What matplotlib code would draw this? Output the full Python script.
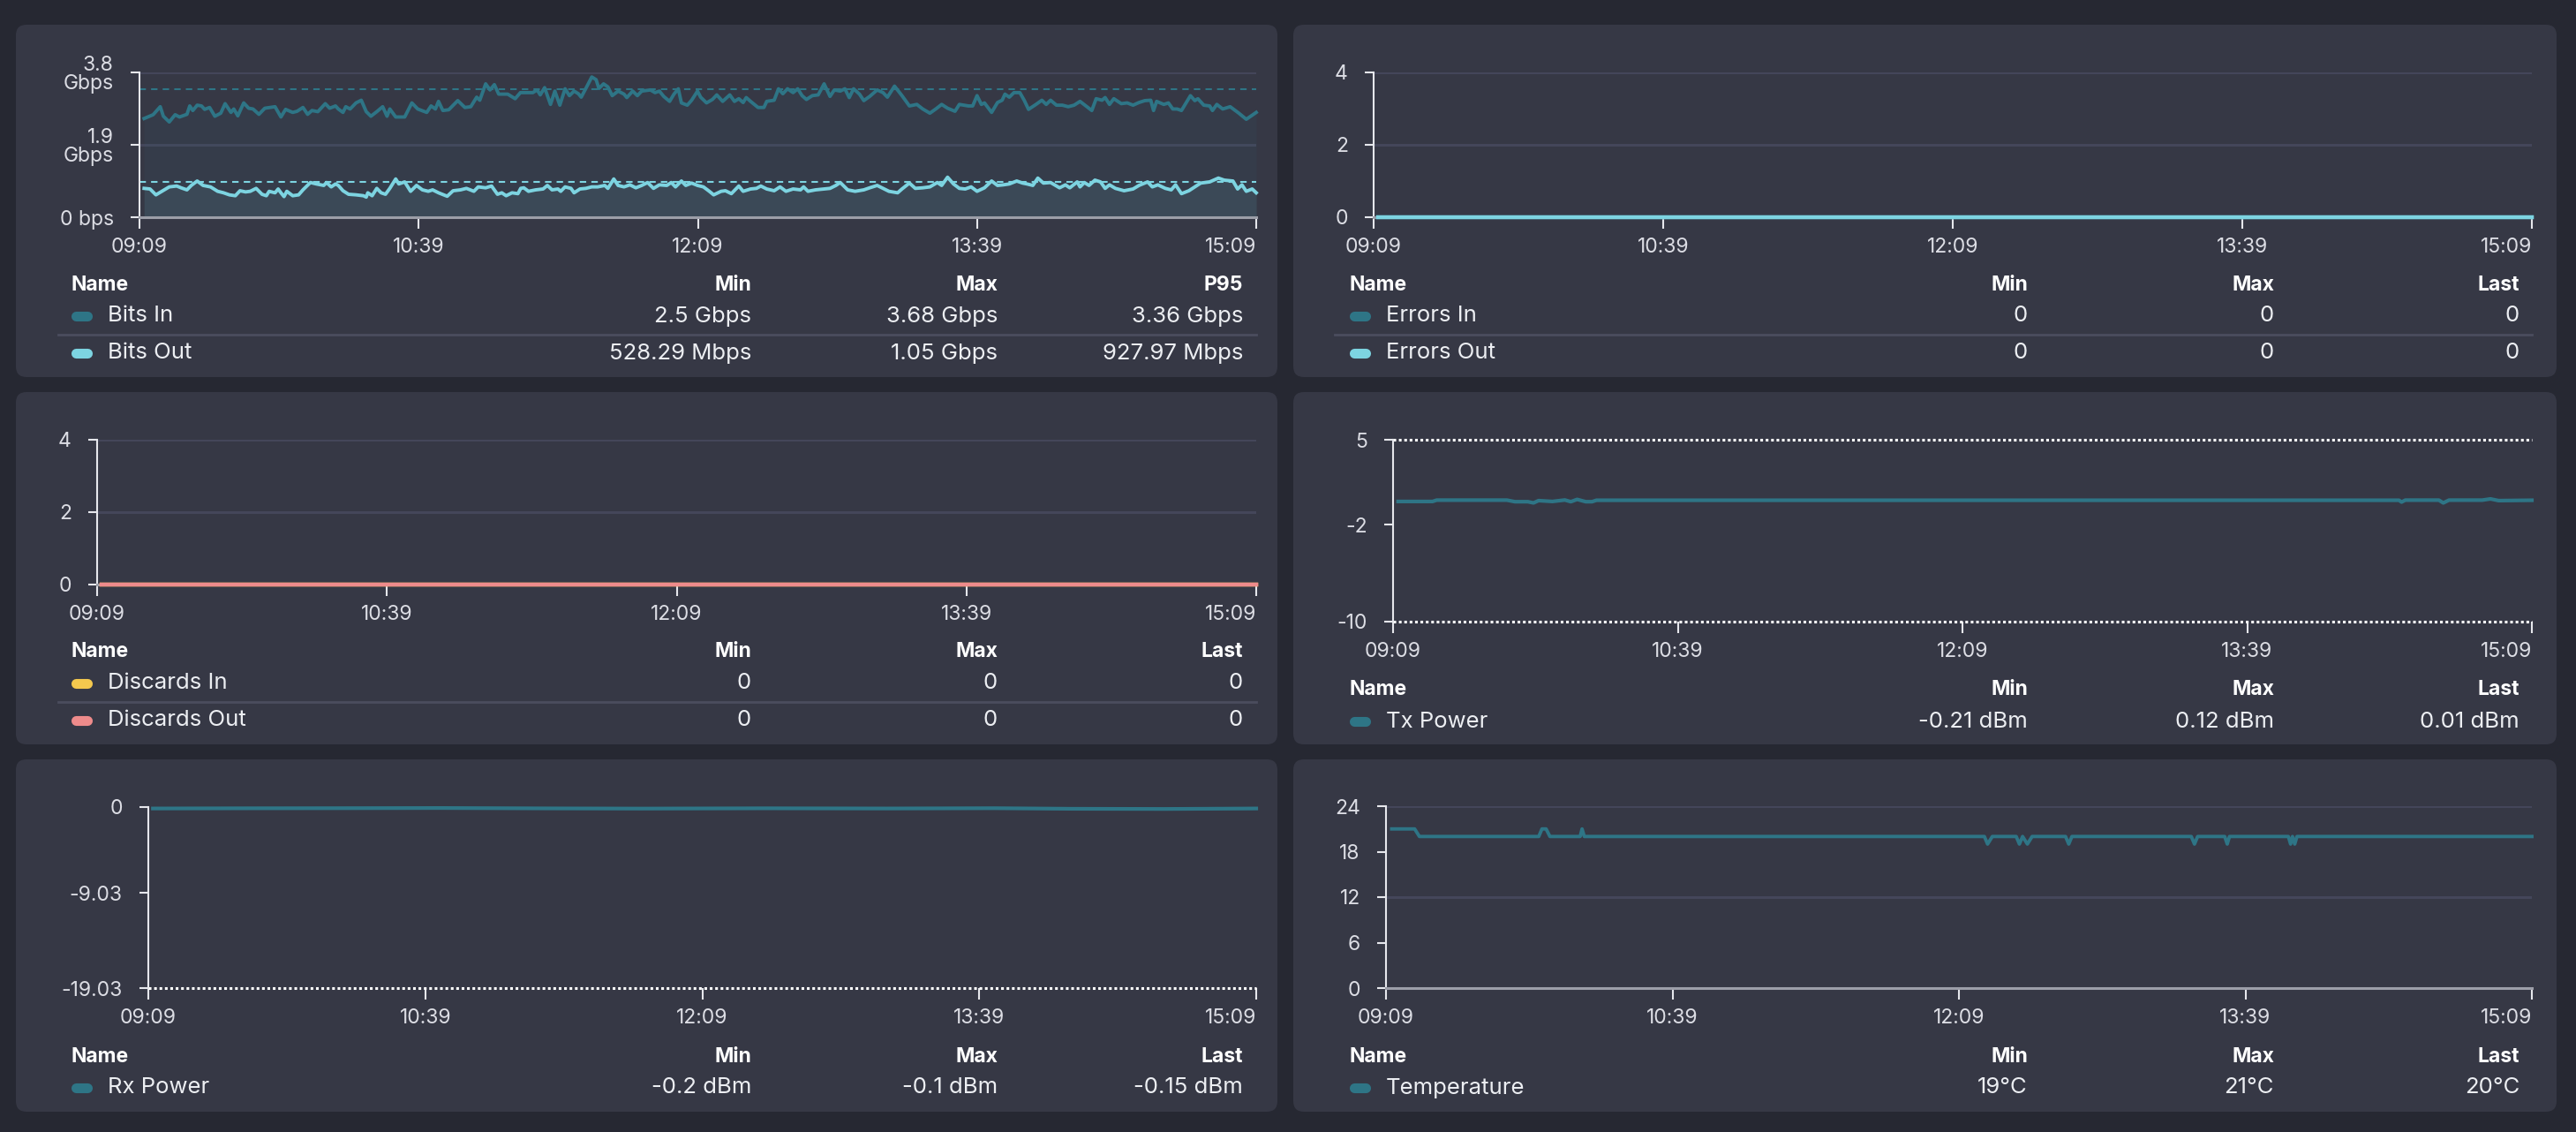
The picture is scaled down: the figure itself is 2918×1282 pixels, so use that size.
import numpy as np
import matplotlib.pyplot as plt
from matplotlib.patches import FancyBboxPatch

plt.rcParams['font.family'] = ['Inter', 'DejaVu Sans']

W, H = 2918, 1282

# x axis: minutes after 09:09
time_ticks = [0, 90, 180, 270, 360]
time_labels = ['09:09', '10:39', '12:09', '13:39', '15:09']

# (minute, Gbps)
bits_in = [(1.5, 2.59), (4.4, 2.69), (6.7, 2.90), (7.7, 2.65), (9.6, 2.50), (11.5, 2.69), (12.9, 2.63),
           (15.3, 2.70), (16.2, 2.92), (17.2, 2.80), (18.6, 2.94), (20.0, 2.92), (21.0, 2.83), (22.6, 2.88),
           (24.3, 2.65), (26.2, 2.73), (27.6, 2.98), (29.5, 2.75), (30.4, 2.84), (31.7, 2.66), (33.6, 3.00),
           (35.2, 2.86), (36.6, 2.84), (38.5, 2.70), (40.4, 2.86), (43.7, 2.90), (45.6, 2.63), (47.1, 2.83),
           (49.4, 2.75), (50.8, 2.78), (52.7, 2.88), (54.2, 2.70), (55.6, 2.80), (57.5, 2.77), (59.9, 2.98),
           (61.3, 2.86), (63.2, 2.92), (64.1, 2.84), (65.6, 2.75), (66.5, 2.90), (67.9, 2.84), (69.8, 3.00),
           (71.5, 3.07), (73.1, 2.77), (74.6, 2.65), (76.5, 2.77), (78.4, 2.90), (79.8, 2.65), (80.7, 2.84),
           (82.6, 2.63), (85.5, 2.63), (87.8, 3.00), (89.7, 2.84), (92.6, 2.75), (94.0, 2.92), (95.4, 2.84),
           (96.4, 3.04), (97.8, 2.80), (99.7, 2.82), (102.6, 3.06), (104.9, 2.88), (106.8, 2.90), (108.7, 3.15),
           (109.7, 3.07), (111.6, 3.50), (113.0, 3.34), (114.4, 3.48), (115.8, 3.23), (118.7, 3.23), (121.1, 3.11),
           (122.8, 3.27), (126.8, 3.27), (128.2, 3.34), (129.2, 3.21), (130.6, 3.40), (132.5, 2.96), (133.9, 3.31),
           (135.5, 2.94), (137.2, 3.37), (138.6, 3.19), (140.1, 3.31), (141.5, 3.24), (142.4, 3.15), (143.9, 3.38),
           (145.8, 3.68), (147.2, 3.61), (148.1, 3.38), (149.6, 3.50), (151.0, 3.42), (152.4, 3.19), (154.3, 3.31),
           (156.2, 3.23), (157.1, 3.14), (159.0, 3.31), (160.5, 3.19), (161.9, 3.31), (164.7, 3.34), (166.2, 3.27),
           (167.6, 3.31), (169.0, 3.17), (170.9, 3.04), (172.3, 3.23), (173.7, 3.37), (174.7, 3.00), (176.6, 2.94),
           (178.0, 3.07), (179.9, 3.31), (180.9, 3.15), (182.8, 3.00), (184.7, 3.09), (186.1, 3.21), (188.0, 3.04),
           (190.3, 3.21), (191.8, 3.04), (193.2, 3.11), (194.6, 3.01), (195.6, 3.14), (197.0, 3.04), (199.4, 2.88),
           (201.3, 2.88), (202.2, 3.04), (204.6, 3.07), (206.0, 3.37), (207.4, 3.24), (208.9, 3.37), (210.7, 3.27),
           (212.2, 3.37), (213.6, 3.19), (215.0, 3.09), (216.9, 3.19), (218.8, 3.21), (220.7, 3.50), (222.6, 3.17),
           (224.0, 3.34), (225.9, 3.31), (227.4, 3.37), (228.8, 3.14), (230.2, 3.37), (232.1, 3.23), (233.5, 3.06),
           (235.4, 3.17), (237.8, 3.34), (239.7, 3.27), (241.1, 3.15), (243.4, 3.44), (245.8, 3.19), (248.2, 2.92),
           (250.6, 2.96), (252.5, 2.84), (254.8, 2.73), (256.7, 2.84), (258.6, 2.96), (260.5, 2.86), (262.9, 2.78),
           (264.3, 2.96), (267.2, 2.92), (268.6, 2.92), (270.0, 3.19), (271.4, 2.96), (272.4, 3.00), (274.7, 2.75),
           (276.6, 3.01), (278.1, 3.07), (279.0, 3.23), (280.4, 3.15), (281.9, 3.27), (283.8, 3.27), (285.2, 3.07),
           (286.6, 2.83), (289.0, 2.96), (290.9, 3.07), (292.3, 2.96), (293.7, 3.07), (295.6, 2.94), (297.5, 2.94),
           (299.4, 2.90), (301.3, 2.94), (303.2, 3.04), (305.1, 2.92), (307.0, 2.80), (308.4, 3.11), (310.3, 3.07),
           (311.3, 3.14), (312.7, 2.96), (314.1, 3.11), (316.5, 2.98), (318.4, 3.00), (320.3, 2.94), (322.2, 3.01),
           (324.1, 3.06), (326.0, 3.07), (326.9, 2.80), (327.9, 3.04), (330.2, 2.96), (331.7, 3.00), (333.1, 2.84),
           (334.5, 2.84), (335.9, 2.80), (338.8, 3.19), (340.2, 3.06), (341.2, 3.11), (343.1, 2.94), (345.0, 2.92),
           (345.9, 2.80), (347.3, 2.96), (349.2, 2.84), (351.6, 2.90), (354.4, 2.73), (356.8, 2.57), (358.2, 2.65),
           (360.0, 2.75)]

bits_out = [(1.5, 0.757), (3.4, 0.741), (5.3, 0.587), (7.2, 0.680), (9.6, 0.796), (12.0, 0.819), (13.4, 0.772),
            (15.3, 0.718), (16.7, 0.834), (18.6, 0.950), (20.5, 0.834), (22.9, 0.796), (25.2, 0.680), (27.1, 0.641),
            (29.0, 0.587), (30.9, 0.564), (32.4, 0.695), (34.2, 0.664), (35.7, 0.680), (37.6, 0.757), (39.5, 0.602),
            (40.9, 0.564), (41.8, 0.680), (43.7, 0.641), (44.7, 0.741), (45.6, 0.641), (46.6, 0.541), (47.5, 0.680),
            (49.4, 0.564), (51.3, 0.587), (52.7, 0.718), (55.1, 0.911), (57.0, 0.873), (59.4, 0.834), (60.3, 0.911),
            (61.8, 0.796), (63.2, 0.873), (64.1, 0.834), (65.6, 0.695), (67.4, 0.602), (69.8, 0.587), (72.2, 0.564),
            (73.1, 0.528), (73.6, 0.641), (75.0, 0.564), (76.5, 0.757), (77.9, 0.641), (79.3, 0.602), (80.7, 0.757),
            (82.6, 1.004), (83.6, 0.873), (85.5, 0.927), (87.4, 0.680), (89.3, 0.834), (91.2, 0.718), (93.1, 0.680),
            (94.5, 0.718), (96.4, 0.641), (99.2, 0.550), (101.1, 0.695), (103.5, 0.718), (105.4, 0.757), (107.8, 0.680),
            (109.2, 0.796), (111.6, 0.772), (113.5, 0.819), (115.4, 0.602), (116.8, 0.641), (118.2, 0.564), (120.1, 0.641),
            (122.0, 0.618), (122.9, 0.757), (123.9, 0.772), (125.4, 0.680), (127.7, 0.718), (130.1, 0.741), (131.5, 0.834),
            (133.0, 0.718), (134.9, 0.741), (135.8, 0.680), (137.2, 0.796), (139.1, 0.757), (140.1, 0.641), (142.0, 0.741),
            (143.9, 0.757), (145.8, 0.796), (147.7, 0.796), (150.0, 0.834), (151.0, 0.757), (152.9, 1.004), (154.3, 0.834),
            (156.2, 0.796), (158.1, 0.850), (160.0, 0.772), (161.9, 0.834), (163.8, 0.911), (165.7, 0.757), (167.6, 0.850),
            (170.0, 0.834), (171.4, 0.911), (172.8, 0.796), (174.7, 0.950), (176.1, 0.834), (178.0, 0.896), (179.9, 0.834),
            (181.8, 0.796), (183.7, 0.680), (185.1, 0.587), (187.5, 0.680), (188.9, 0.695), (190.8, 0.618), (193.2, 0.819),
            (194.6, 0.680), (197.0, 0.741), (198.9, 0.757), (200.3, 0.819), (202.2, 0.741), (204.6, 0.695), (206.5, 0.796),
            (208.4, 0.680), (210.7, 0.741), (213.1, 0.718), (214.1, 0.796), (215.5, 0.680), (217.9, 0.718), (220.7, 0.741),
            (222.6, 0.757), (224.5, 0.834), (225.9, 0.911), (228.3, 0.718), (230.7, 0.680), (233.5, 0.718), (235.4, 0.772),
            (237.8, 0.834), (239.7, 0.757), (241.6, 0.680), (244.4, 0.641), (245.8, 0.741), (248.2, 0.896), (250.1, 0.757),
            (252.5, 0.772), (254.8, 0.796), (257.2, 0.911), (258.6, 0.834), (260.5, 1.050), (262.4, 0.873), (264.3, 0.757),
            (266.2, 0.741), (268.1, 0.796), (270.0, 0.680), (272.4, 0.772), (274.7, 0.950), (276.6, 0.834), (278.5, 0.850),
            (280.4, 0.873), (282.8, 0.950), (284.7, 0.896), (286.1, 0.873), (288.0, 0.834), (289.6, 1.027), (291.4, 0.896),
            (293.7, 0.911), (296.6, 0.772), (298.5, 0.850), (299.9, 0.772), (302.3, 0.927), (303.2, 0.796), (304.6, 0.911),
            (306.1, 0.834), (308.0, 0.973), (309.8, 0.927), (311.3, 0.757), (312.7, 0.850), (314.6, 0.757), (317.4, 0.695),
            (320.3, 0.741), (322.2, 0.834), (325.0, 0.927), (326.5, 0.796), (328.3, 0.850), (330.7, 0.757), (332.6, 0.718),
            (334.0, 0.850), (335.9, 0.618), (338.3, 0.695), (340.2, 0.796), (342.1, 0.896), (345.0, 0.927), (347.8, 1.027),
            (349.7, 0.973), (352.5, 0.950), (354.0, 0.741), (355.4, 0.850), (356.8, 0.680), (358.7, 0.741), (360.0, 0.641)]
bits_in_p95 = 3.36
bits_out_p95 = 0.92797

errors_in = [(1.5, 0), (360, 0)]
errors_out = [(1.5, 0), (360, 0)]
discards_in = [(1.5, 0), (360, 0)]
discards_out = [(1.5, 0), (360, 0)]

tx_power = [(1.6, -0.09), (12.5, -0.09), (13.8, 0.02), (36.0, 0.02), (38.5, -0.11), (42.6, -0.11), (44.4, -0.21),
            (46.0, -0.02), (50.4, -0.09), (54.3, 0.03), (56.2, -0.11), (58.2, 0.08), (60.9, -0.11), (62.9, -0.11),
            (64.3, 0.01), (318.0, 0.01), (318.8, -0.14), (320.0, 0.02), (330.6, 0.02), (332.0, -0.21), (333.8, 0.02),
            (344.3, 0.02), (346.9, 0.12), (349.5, -0.02), (360.0, 0.01)]
tx_limits = [5, -10]

rx_power = [(1.5, -0.15), (30, -0.13), (60, -0.12), (95, -0.10), (130, -0.14), (160, -0.16), (200, -0.13),
            (240, -0.15), (275, -0.12), (300, -0.18), (330, -0.20), (360, -0.15)]
rx_limits = [-19.03]

temperature = [(1.8, 21), (9.0, 21), (10.5, 20), (48.0, 20), (49.0, 21), (50.3, 21), (51.5, 20), (61.0, 20),
               (61.6, 21), (62.3, 20), (188.0, 20), (189.0, 19), (190.5, 20), (198.0, 20), (199.0, 19), (200.0, 20),
               (201.5, 19), (203.0, 20), (213.5, 20), (214.5, 19), (215.5, 20), (253.0, 20), (254.0, 19), (255.0, 20),
               (263.5, 20), (264.3, 19), (265.0, 20), (283.5, 20), (284.2, 19), (284.8, 20), (285.5, 19), (286.2, 20),
               (360.0, 20)]

# legend tables
bits_names = ['Bits In', 'Bits Out']
bits_cols = ['Min', 'Max', 'P95']
bits_stats = [['2.5 Gbps', '3.68 Gbps', '3.36 Gbps'], ['528.29 Mbps', '1.05 Gbps', '927.97 Mbps']]
errors_names = ['Errors In', 'Errors Out']
discards_names = ['Discards In', 'Discards Out']
stat_cols = ['Min', 'Max', 'Last']
zero_stats = [['0', '0', '0'], ['0', '0', '0']]
tx_names = ['Tx Power']
tx_stats = [['-0.21 dBm', '0.12 dBm', '0.01 dBm']]
rx_names = ['Rx Power']
rx_stats = [['-0.2 dBm', '-0.1 dBm', '-0.15 dBm']]
temp_names = ['Temperature']
temp_stats = [['19°C', '21°C', '20°C']]

PAGE = '#262832'
PANEL = '#363845'
GRID = '#44465a'
TEAL = '#2e7586'
CYAN = '#7dd4e1'
YELLOW = '#f4c84e'
SALMON = '#ee8b8b'
TICK = '#dcdde4'
BASE = '#9c9ea8'

fig = plt.figure(figsize=(W / 100, H / 100), dpi=100, facecolor=PAGE)
bg = fig.add_axes([0, 0, 1, 1])
bg.set_xlim(0, W)
bg.set_ylim(H, 0)
bg.set_axis_off()

for x0, x1 in [(18, 1447), (1465, 2896)]:
    for y0, y1 in [(28, 427), (444, 843), (860, 1259)]:
        bg.add_patch(FancyBboxPatch((x0, y0), x1 - x0, y1 - y0,
                                    boxstyle='round,pad=0,rounding_size=12',
                                    fc=PANEL, ec='none'))


def chart(left, top, right, bottom, ylim, yticks, ylabels, grid, base=True):
    ax = fig.add_axes([left / W, 1 - bottom / H, (right - left) / W, (bottom - top) / H])
    ax.set_facecolor('none')
    ax.set_xlim(0, 360)
    ax.set_ylim(*ylim)
    ax.spines['top'].set_visible(False)
    ax.spines['right'].set_visible(False)
    ax.spines['left'].set_color('#e6e7ec')
    ax.spines['left'].set_linewidth(1.5)
    if base:
        ax.spines['bottom'].set_color(BASE)
        ax.spines['bottom'].set_linewidth(2.2)
    else:
        ax.spines['bottom'].set_visible(False)
    ax.set_xticks(time_ticks, time_labels)
    ax.get_xticklabels()[-1].set_ha('right')
    ax.set_yticks(yticks, ylabels)
    for lab in ax.get_yticklabels():
        lab.set_multialignment('right')
        lab.set_linespacing(1.0)
    ax.tick_params(axis='x', length=9, width=1.5, color='#e6e7ec', pad=7.5,
                   labelsize=16.5, labelcolor=TICK)
    ax.tick_params(axis='y', length=7, width=1.5, color='#e6e7ec', pad=14,
                   labelsize=16.5, labelcolor=TICK)
    for g in grid:
        ax.axhline(g, color=GRID, lw=2.2, zorder=0)
    return ax


def line(ax, samples, color, lw=2.8):
    t, v = np.array(samples).T
    ax.plot(t, v, color=color, lw=lw, solid_joinstyle='round', clip_on=False, zorder=3)
    return t, v


def legend(xname, head_y, row_ys, col_x, sep, names, colors, cols, stats):
    bg.text(xname, head_y, 'Name', color='white', fontsize=16.5, fontweight='bold', va='center')
    for cx, c in zip(col_x, cols):
        bg.text(cx, head_y, c, color='white', fontsize=16.5, fontweight='bold', va='center', ha='right')
    for i, (ry, name, color, row) in enumerate(zip(row_ys, names, colors, stats)):
        bg.plot([xname + 6, xname + 19], [ry, ry], color=color, lw=8, solid_capstyle='round')
        bg.text(xname + 42, ry, name, color='#eceef2', fontsize=18.5, va='center')
        for cx, val in zip(col_x, row):
            bg.text(cx, ry, val, color='#eceef2', fontsize=18.5, va='center', ha='right')
        if i < len(row_ys) - 1:
            sy = (ry + row_ys[i + 1]) / 2
            bg.plot(sep, [sy, sy], color='#4b4d5e', lw=2)


left_cols = [851, 1130, 1408]
right_cols = [2297, 2576, 2854]

# traffic
ax = chart(158, 82, 1423, 246, (0, 3.8), [0, 1.9, 3.8], ['0 bps', '1.9\nGbps', '3.8\nGbps'], [3.8, 1.9])
t, v = np.array(bits_in).T
ax.fill_between(t, v, 0, color=TEAL, alpha=0.08, lw=0)
t, v = np.array(bits_out).T
ax.fill_between(t, v, 0, color=CYAN, alpha=0.09, lw=0)
line(ax, bits_in, TEAL)
line(ax, bits_out, CYAN)
ax.axhline(bits_in_p95, color=TEAL, lw=1.5, ls=(0, (3.5, 2.8)), zorder=2)
ax.axhline(bits_out_p95, color=CYAN, lw=1.5, ls=(0, (3.5, 2.8)), zorder=2)
legend(80, 323, [358, 400], left_cols, [66, 1423], bits_names, [TEAL, CYAN], bits_cols, bits_stats)

# errors
ax = chart(1556, 82, 2868, 246, (0, 4), [0, 2, 4], ['0', '2', '4'], [4, 2])
line(ax, errors_in, TEAL, 3.2)
line(ax, errors_out, CYAN, 3.2)
legend(1528, 323, [358, 400], right_cols, [1512, 2868], errors_names, [TEAL, CYAN], stat_cols, zero_stats)

# discards
ax = chart(110, 498, 1423, 662, (0, 4), [0, 2, 4], ['0', '2', '4'], [4, 2])
line(ax, discards_in, YELLOW, 3.2)
line(ax, discards_out, SALMON, 3.2)
legend(80, 738, [774, 816], left_cols, [66, 1423], discards_names, [YELLOW, SALMON], stat_cols, zero_stats)

# tx power
ax = chart(1578, 498, 2868, 704, (-10, 5), [-10, -2, 5], ['-10', '-2', '5'], [], base=False)
for lim in tx_limits:
    ax.axhline(lim, color='white', lw=2.2, ls=(0, (1, 1)), clip_on=False, zorder=2)
line(ax, tx_power, TEAL, 3)
legend(1528, 781, [817], right_cols, [1512, 2868], tx_names, [TEAL], stat_cols, tx_stats)

# rx power
ax = chart(168, 914, 1423, 1119, (-19.03, 0), [-19.03, -9.03, 0], ['-19.03', '-9.03', '0'], [], base=False)
for lim in rx_limits:
    ax.axhline(lim, color='white', lw=2.2, ls=(0, (1, 1)), clip_on=False, zorder=2)
line(ax, rx_power, TEAL, 3)
legend(80, 1197, [1232], left_cols, [66, 1423], rx_names, [TEAL], stat_cols, rx_stats)

# temperature
ax = chart(1570, 913, 2868, 1119, (0, 24), [0, 6, 12, 18, 24], ['0', '6', '12', '18', '24'], [24, 12])
line(ax, temperature, TEAL, 2.8)
legend(1528, 1197, [1232], right_cols, [1512, 2868], temp_names, [TEAL], stat_cols, temp_stats)

fig.savefig('out.png', dpi=100, facecolor=PAGE)
